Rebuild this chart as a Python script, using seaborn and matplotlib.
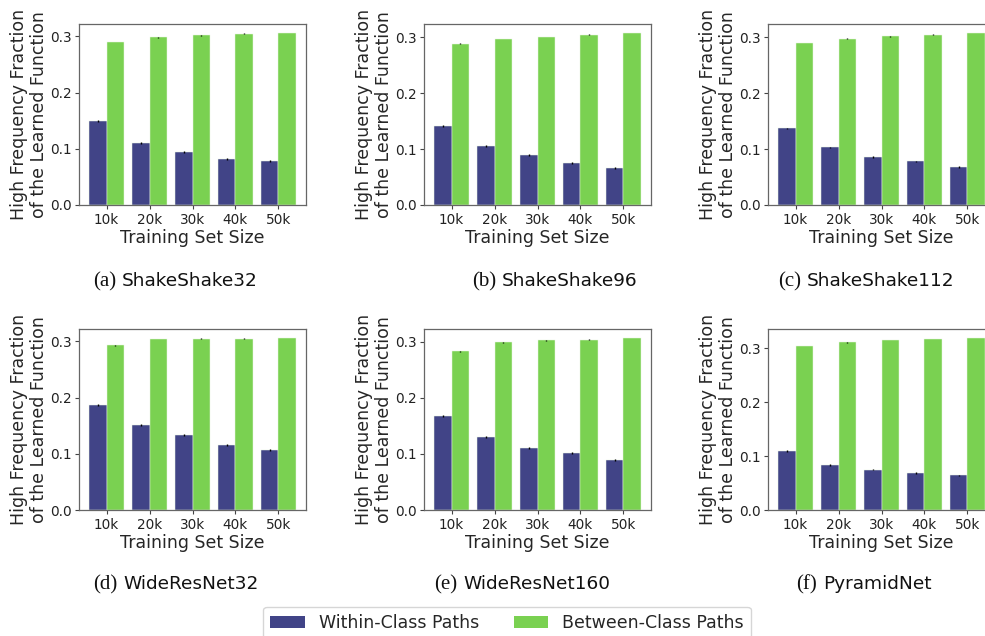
import numpy as np
import pandas as pd
import matplotlib
matplotlib.use("Agg")
import matplotlib.pyplot as plt
import seaborn as sns

# ---- data -------------------------------------------------------------
sizes = ["10k", "20k", "30k", "40k", "50k"]
series = ["Within-Class Paths", "Between-Class Paths"]
colors = ["#414487", "#7ad151"]

tags = ["(a)", "(b)", "(c)", "(d)", "(e)", "(f)"]
models = ["ShakeShake32", "ShakeShake96", "ShakeShake112",
          "WideResNet32", "WideResNet160", "PyramidNet"]

within_shakeshake32 = [0.149, 0.110, 0.094, 0.082, 0.078]
between_shakeshake32 = [0.290, 0.298, 0.302, 0.305, 0.306]
within_shakeshake96 = [0.142, 0.105, 0.089, 0.076, 0.067]
between_shakeshake96 = [0.289, 0.297, 0.301, 0.305, 0.308]
within_shakeshake112 = [0.137, 0.103, 0.086, 0.078, 0.068]
between_shakeshake112 = [0.290, 0.298, 0.302, 0.305, 0.308]
within_wideresnet32 = [0.186, 0.152, 0.134, 0.116, 0.107]
between_wideresnet32 = [0.293, 0.304, 0.305, 0.305, 0.306]
within_wideresnet160 = [0.168, 0.130, 0.111, 0.101, 0.089]
between_wideresnet160 = [0.283, 0.299, 0.303, 0.304, 0.307]
within_pyramidnet = [0.110, 0.083, 0.075, 0.068, 0.064]
between_pyramidnet = [0.304, 0.311, 0.315, 0.317, 0.319]

# standard errors over runs
within_err = [0.0018, 0.0018, 0.0016, 0.0018, 0.0018, 0.0016]
between_err = [0.0006, 0.0006, 0.0006, 0.0006, 0.0006, 0.0006]

within_all = [within_shakeshake32, within_shakeshake96, within_shakeshake112,
              within_wideresnet32, within_wideresnet160, within_pyramidnet]
between_all = [between_shakeshake32, between_shakeshake96, between_shakeshake112,
               between_wideresnet32, between_wideresnet160, between_pyramidnet]

# ---- style ------------------------------------------------------------
sns.set_style("ticks")
plt.rcParams["font.family"] = ["DejaVu Sans"]
plt.rcParams["axes.edgecolor"] = "#666666"
plt.rcParams["axes.linewidth"] = 0.9
plt.rcParams["xtick.color"] = "#444444"
plt.rcParams["ytick.color"] = "#444444"
plt.rcParams["xtick.labelcolor"] = "#222222"
plt.rcParams["ytick.labelcolor"] = "#222222"

fig = plt.figure(figsize=(9.85, 6.36), dpi=100)
W, H = 985.0, 636.0

col_left = [79, 424, 768]
row_top = [24, 329]
ax_w, ax_h = 227, 181

# caption: serif tag right-aligned, sans model name left-aligned
name_x = [122, 502, 807, 123, 463, 823]
cap_base = [286, 589]

for k in range(6):
    r, c = divmod(k, 3)
    ax = fig.add_axes([col_left[c] / W, 1 - (row_top[r] + ax_h) / H,
                       ax_w / W, ax_h / H])
    df = pd.DataFrame({
        "size": sizes * 2,
        "value": within_all[k] + between_all[k],
        "kind": [series[0]] * len(sizes) + [series[1]] * len(sizes),
    })
    sns.barplot(data=df, x="size", y="value", hue="kind", hue_order=series,
                palette=colors, saturation=1, errorbar=None,
                edgecolor="#e8f5e0", linewidth=0.35, ax=ax, legend=False)
    errs = [within_err[k], between_err[k]]
    for cont, e in zip(ax.containers, errs):
        xs = [b.get_x() + b.get_width() / 2 for b in cont]
        hs = [b.get_height() for b in cont]
        ax.errorbar(xs, hs, yerr=e, fmt="none", ecolor="black",
                    elinewidth=1.0, capsize=0)
    ax.autoscale(enable=True, axis="both")
    ax.margins(x=0.05, y=0.05)
    ax.set_ylim(bottom=0)
    ax.set_yticks([0.0, 0.1, 0.2, 0.3])
    ax.set_yticklabels(["0.0", "0.1", "0.2", "0.3"])
    ax.tick_params(axis="both", labelsize=9.8, length=3.0, width=0.8, pad=2.5)
    ax.set_xlabel("Training Set Size", fontsize=12.5, labelpad=1.5)
    ax.set_ylabel("High Frequency Fraction\nof the Learned Function",
                  fontsize=12.5, labelpad=1, linespacing=1.15)
    for s in ax.spines.values():
        s.set_visible(True)

    yb = 1 - cap_base[r] / H
    fig.text((name_x[k] - 6) / W, yb, tags[k], ha="right", va="baseline",
             fontsize=15, family="Liberation Serif", color="#111111")
    fig.text(name_x[k] / W, yb, models[k], ha="left", va="baseline",
             fontsize=13.3, color="#111111")

handles = [plt.Rectangle((0, 0), 1, 1, facecolor=col, edgecolor="none")
           for col in colors]
fig.legend(handles, series, loc="upper center", ncol=2,
           bbox_to_anchor=(507 / W, 1 - 607 / H), fontsize=12.5,
           frameon=True, handlelength=2.0, columnspacing=2.0,
           borderaxespad=0.0)

fig.savefig("out.png", dpi=100)
